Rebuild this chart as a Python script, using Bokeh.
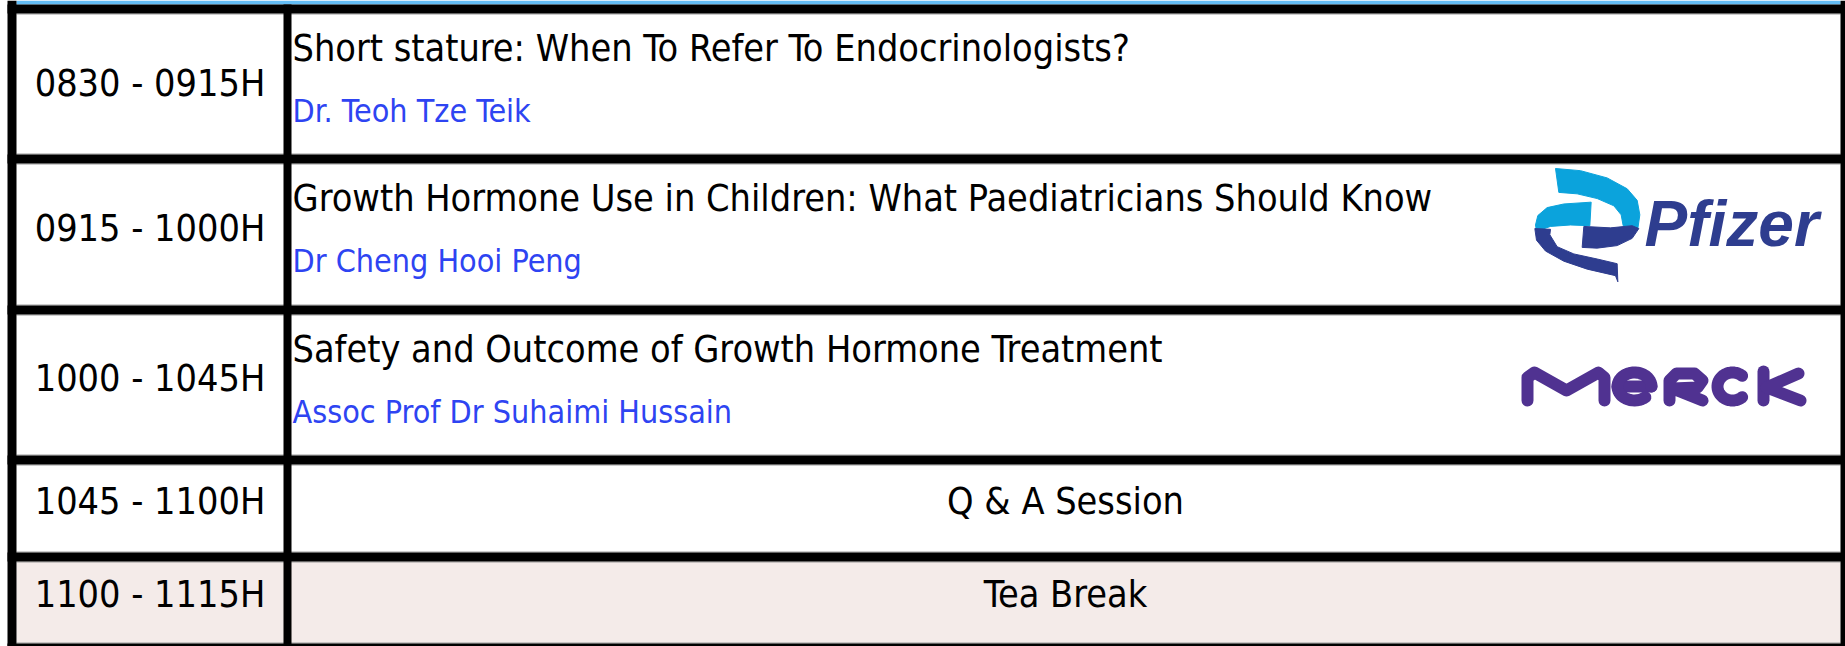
import numpy as np
from bokeh.plotting import figure
from bokeh.models import Range1d, ColumnDataSource
from bokeh.core.properties import value
from bokeh.embed import file_html
from bokeh.resources import INLINE

# ---------------- data ----------------
times = ["0830 - 0915H", "0915 - 1000H", "1000 - 1045H", "1045 - 1100H", "1100 - 1115H"]
titles = ["Short stature: When To Refer To Endocrinologists?",
          "Growth Hormone Use in Children: What Paediatricians Should Know",
          "Safety and Outcome of Growth Hormone Treatment", "", ""]
speakers = ["Dr. Teoh Tze Teik", "Dr Cheng Hooi Peng", "Assoc Prof Dr Suhaimi Hussain", "", ""]
merged = ["", "", "", "Q & A Session", "Tea Break"]
sponsors = ["", "Pfizer", "Merck", "", ""]
row_kind = ["talk", "talk", "talk", "session", "break"]

# ---------------- layout (reference pixel space) ----------------
FW, FH = 1845, 646
edges = [4, 154, 305, 455, 552, 643]     # top of each horizontal rule
BW = 9                                   # rule thickness
X_LEFT, X_DIV, X_RIGHT = 7, 283, 1840    # left of vertical rules
MERGE_CX = 1065
TIME_Y = [82, 227, 377, 500, 593]        # visual centres of the time labels
FONT = "DejaVu Sans Condensed"

p = figure(width=FW, height=FH, x_range=Range1d(0, FW), y_range=Range1d(FH, 0),
           output_backend="svg", toolbar_location=None, min_border=0,
           x_axis_location=None, y_axis_location=None)
p.grid.visible = False
p.outline_line_color = None
p.background_fill_color = "white"
p.border_fill_color = "white"

# blue header band
p.quad(left=X_LEFT + BW, right=X_RIGHT, top=0, bottom=edges[0], fill_color="#63bdf5", line_color=None)

# row backgrounds
tops = [e + BW for e in edges[:-1]]
bots = edges[1:]
fills = ["#f4ebe9" if k == "break" else "white" for k in row_kind]
p.quad(left=X_LEFT + BW, right=X_RIGHT, top=tops, bottom=bots, fill_color=fills, line_color=None)

# thin grey hairlines beside rules
p.segment(x0=X_LEFT + BW, x1=X_RIGHT, y0=[e + BW + 0.5 for e in edges[:-1]], y1=[e + BW + 0.5 for e in edges[:-1]],
          line_color="#9a9a9a", line_width=1)
p.segment(x0=X_LEFT + BW, x1=X_RIGHT, y0=[e - 0.5 for e in edges[1:]], y1=[e - 0.5 for e in edges[1:]],
          line_color="#9a9a9a", line_width=1)

# horizontal rules
p.quad(left=X_LEFT, right=FW, top=edges, bottom=[e + BW for e in edges], fill_color="black", line_color=None)
# vertical rules
p.quad(left=[X_LEFT, X_DIV, X_RIGHT], right=[X_LEFT + BW, X_DIV + 8, FW],
       top=[0, edges[0], 0], bottom=[FH + 20] * 3, fill_color="black", line_color=None)

# ---------------- texts ----------------
time_src = ColumnDataSource(dict(x=[(X_LEFT + BW + X_DIV) / 2] * 5, y=TIME_Y, t=times))
p.text(x="x", y="y", text="t", source=time_src, text_font=value(FONT), text_font_size=value("37.5px"),
       text_align="center", text_baseline="alphabetic", text_color="black")

ti = [i for i in range(5) if titles[i]]
title_src = ColumnDataSource(dict(x=[X_DIV + 9] * len(ti), y=[tops[i] + 34.5 for i in ti], t=[titles[i] for i in ti]))
p.text(x="x", y="y", text="t", source=title_src, text_font=value(FONT), text_font_size=value("37.5px"),
       text_align="left", text_baseline="alphabetic", text_color="black")

sp_src = ColumnDataSource(dict(x=[X_DIV + 9] * len(ti), y=[tops[i] + 97 for i in ti], t=[speakers[i] for i in ti]))
p.text(x="x", y="y", text="t", source=sp_src, text_font=value(FONT), text_font_size=value("32px"),
       text_align="left", text_baseline="alphabetic", text_color="#2e44f2")

mi = [i for i in range(5) if merged[i]]
m_src = ColumnDataSource(dict(x=[MERGE_CX] * len(mi), y=[TIME_Y[i] for i in mi], t=[merged[i] for i in mi]))
p.text(x="x", y="y", text="t", source=m_src, text_font=value(FONT), text_font_size=value("37.5px"),
       text_align="center", text_baseline="alphabetic", text_color="black")

# ---------------- sponsor logos (drawn approximations) ----------------
for i, s in enumerate(sponsors):
    if s == "Pfizer":
        ox, oy = 1500, tops[i] + 5
        tr = lambda pts: ([ox + a / 3 for a, b in pts], [oy + (b - 22) * 1.086 / 3 for a, b in pts])
        light = "#0ba3dc"
        dark = "#2e3d8f"
        shapes = [
            (light, [(165, 22), (240, 28), (320, 48), (380, 78), (410, 110), (418, 150), (412, 188),
                     (368, 180), (362, 150), (340, 125), (290, 105), (230, 92), (175, 88)]),
            (light, [(105, 178), (112, 152), (140, 130), (190, 120), (272, 115), (268, 180),
                     (210, 178), (150, 182), (108, 195)]),
            (dark, [(250, 182), (330, 186), (395, 180), (415, 188), (395, 215), (350, 235), (290, 242), (245, 240)]),
            (dark, [(103, 188), (108, 220), (135, 250), (190, 278), (260, 300), (345, 318), (352, 335),
                    (350, 285), (290, 272), (220, 258), (170, 238), (148, 205), (150, 190)]),
        ]
        for col, pts in shapes:
            xs, ys = tr(pts)
            p.patch(xs, ys, fill_color=col, line_color=col, line_width=1)
        p.text(x=[1644], y=[tops[i] + 60], text=["Pfizer"], text_font=value("Liberation Sans"),
               text_font_style="bold italic", text_font_size=value("64px"), text_color=dark,
               text_align="left", text_baseline="alphabetic")
    if s == "Merck":
        col = "#503291"
        paths = [
            [(1527, 400), (1527, 377), (1534, 372), (1566, 390), (1598, 372), (1604, 377), (1604, 400)],
            [(1617, 386), (1651, 386)],
            [(1669, 400), (1669, 380), (1676, 373), (1694, 373), (1702, 380), (1697, 387), (1672, 388), (1702, 400)],
            [(1763, 371), (1763, 400)],
            [(1798, 373), (1766, 387), (1800, 400)],
        ]
        th = np.linspace(0, np.deg2rad(310), 40)
        paths.append(list(zip(1634 + 17 * np.cos(th), 386 - 14 * np.sin(th))))
        th2 = np.linspace(np.deg2rad(50), np.deg2rad(310), 40)
        paths.append(list(zip(1732 + 15 * np.cos(th2), 386 - 14 * np.sin(th2))))
        xs = [[a for a, b in pth] for pth in paths]
        ys = [[b for a, b in pth] for pth in paths]
        p.multi_line(xs, ys, line_color=col, line_width=12, line_cap="round", line_join="round")

open("out.html", "w").write(file_html(p, INLINE))
